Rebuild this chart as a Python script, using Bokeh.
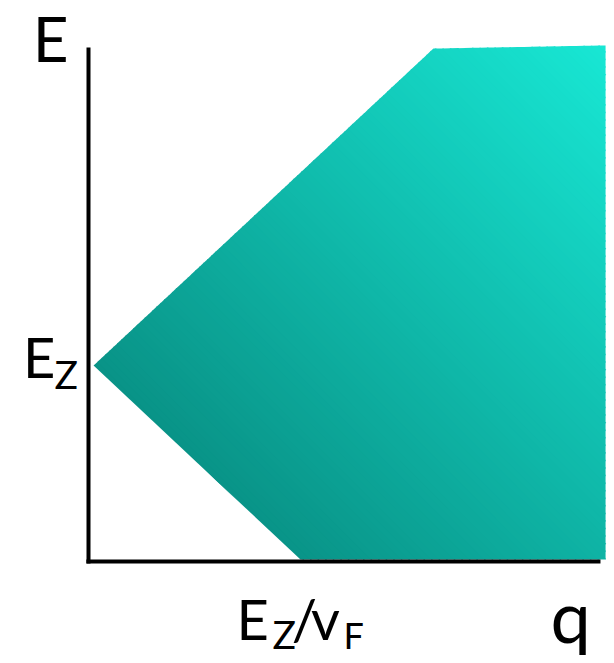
from bokeh.plotting import figure
from bokeh.models import Range1d
from bokeh.core.properties import value
from bokeh.embed import file_html
from bokeh.resources import INLINE

# Continuum region in the (q, E) plane, in units of E_Z and E_Z/v_F
q_edge = [0.024, 1.627, 2.439, 2.439, 1.0]
E_edge = [1.0, 2.617, 2.633, 0.01, 0.01]

# axes
axis_E_top = 2.622
axis_q_end = 2.415

# gradient end colours (dark bottom-left -> bright top-right)
color_start = (9, 147, 135)
color_end = (24, 231, 212)

FONT = "Lato"
W, H = 614, 663
PX_Q, PX_E = 212.0, 196.0   # screen pixels per unit of q and E

p = figure(width=W, height=H, output_backend="svg", toolbar_location=None,
           x_range=Range1d(-88 / PX_Q, (W - 88) / PX_Q),
           y_range=Range1d(-(H - 561) / PX_E, 561 / PX_E),
           min_border=0, outline_line_color=None)
p.axis.visible = False
p.grid.visible = False
p.background_fill_color = "white"
p.border_fill_color = "white"


def s_of(q, e):
    # screen-space coordinate along the diagonal gradient direction
    return PX_Q * q + PX_E * e


def clip(poly, c, keep_above):
    out = []
    n = len(poly)
    for i in range(n):
        a, b = poly[i], poly[(i + 1) % n]
        fa = s_of(*a) - c
        fb = s_of(*b) - c
        if not keep_above:
            fa, fb = -fa, -fb
        if fa >= 0:
            out.append(a)
        if (fa >= 0) != (fb >= 0):
            t = fa / (fa - fb)
            out.append((a[0] + t * (b[0] - a[0]), a[1] + t * (b[1] - a[1])))
    return out


poly = list(zip(q_edge, E_edge))
svals = [s_of(q, e) for q, e in poly]
smin, smax = min(svals), max(svals)
n_bands = 110
xs, ys, colors = [], [], []
for k in range(n_bands):
    lo = smin + (smax - smin) * k / n_bands
    hi = smin + (smax - smin) * (k + 1) / n_bands + 1.5
    band = clip(clip(poly, lo, True), hi, False)
    if len(band) < 3:
        continue
    t = (k + 0.5) / n_bands
    r, g, b = (round(c0 + (c1 - c0) * t) for c0, c1 in zip(color_start, color_end))
    xs.append([pt[0] for pt in band])
    ys.append([pt[1] for pt in band])
    colors.append("#%02x%02x%02x" % (r, g, b))

p.patches(xs, ys, fill_color=colors, line_color=None)

# axis lines
p.line([0, 0], [-0.01, axis_E_top], line_color="black", line_width=4, line_cap="butt")
p.line([-0.01, axis_q_end], [0, 0], line_color="black", line_width=4, line_cap="butt")


def label(x, y, txt, size, align="left"):
    # y is the baseline; lift by the renderer's baseline shift for this size
    px = float(size.rstrip("px"))
    p.text(x=[x], y=[y + 0.43 * px / PX_E], text=[txt], text_font=value(FONT),
           text_font_size=size, text_color="black", text_align=align,
           text_baseline="alphabetic")


# axis titles and the marked values
label(-0.179, 2.536, "E", "62px", "center")
label(-0.156, 0.923, "E", "56px", "right")
label(-0.160, 0.872, "Z", "39px")
label(0.698, -0.413, "E", "56px")
label(0.868, -0.454, "Z", "39px")
label(1.019, -0.413, "/", "56px", "center")
label(1.118, -0.413, "v", "56px", "center")
label(1.203, -0.454, "F", "36px")
label(2.274, -0.429, "q", "72px", "center")

open("out.html", "w").write(file_html(p, INLINE))
